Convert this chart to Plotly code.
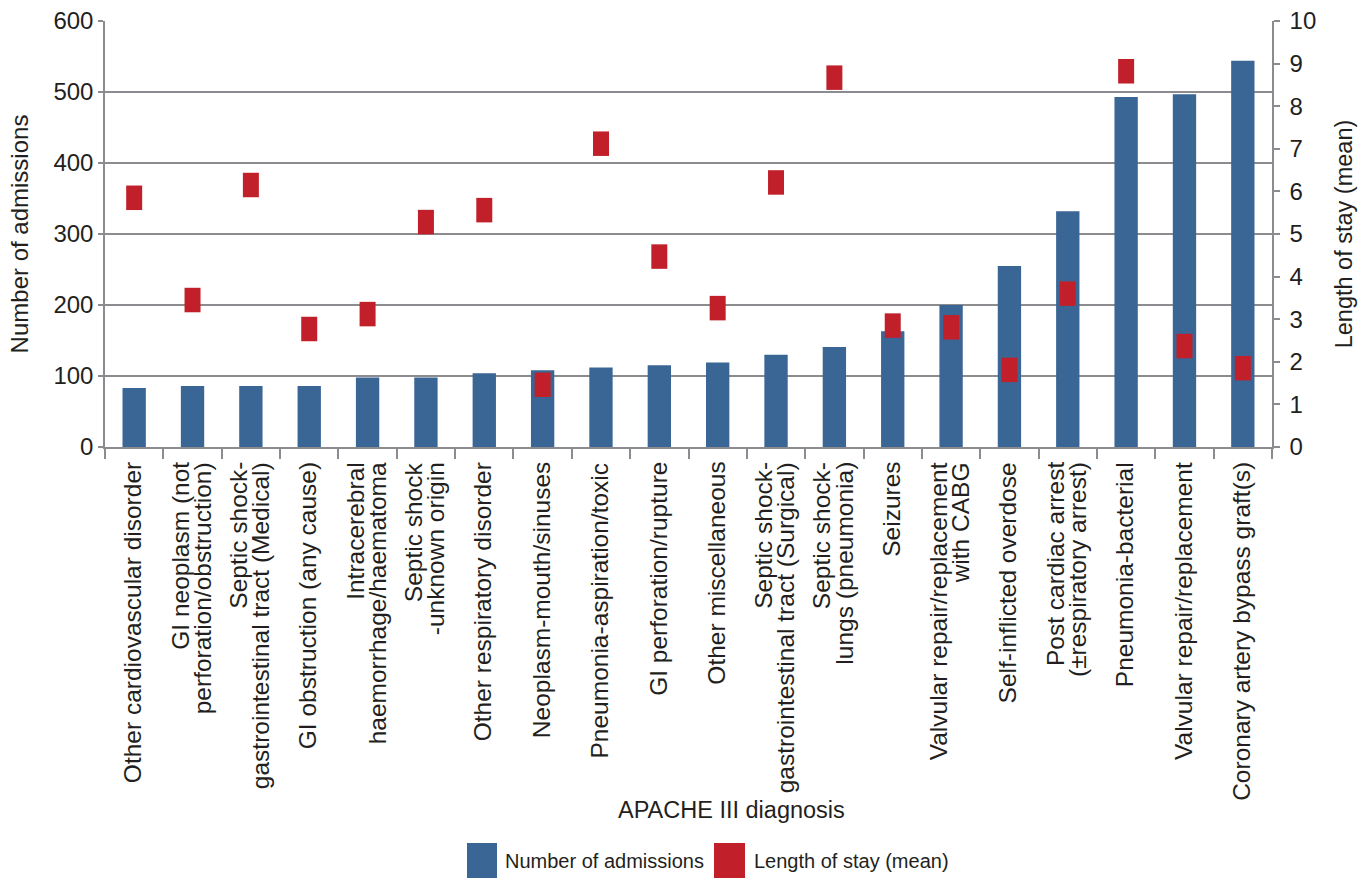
import plotly.graph_objects as go

# APACHE III diagnostic groups, ordered by number of admissions
categories = [
    "Other cardiovascular disorder",
    "GI neoplasm (not perforation/obstruction)",
    "Septic shock-gastrointestinal tract (Medical)",
    "GI obstruction (any cause)",
    "Intracerebral haemorrhage/haematoma",
    "Septic shock -unknown origin",
    "Other respiratory disorder",
    "Neoplasm-mouth/sinuses",
    "Pneumonia-aspiration/toxic",
    "GI perforation/rupture",
    "Other miscellaneous",
    "Septic shock-gastrointestinal tract (Surgical)",
    "Septic shock-lungs (pneumonia)",
    "Seizures",
    "Valvular repair/replacement with CABG",
    "Self-inflicted overdose",
    "Post cardiac arrest (±respiratory arrest)",
    "Pneumonia-bacterial",
    "Valvular repair/replacement",
    "Coronary artery bypass graft(s)",
]

# Wrapped category labels (one entry per line)
tick_labels = [
    ["Other cardiovascular disorder"],
    ["GI neoplasm (not", "perforation/obstruction)"],
    ["Septic shock-", "gastrointestinal tract (Medical)"],
    ["GI obstruction (any cause)"],
    ["Intracerebral", "haemorrhage/haematoma"],
    ["Septic shock", "-unknown origin"],
    ["Other respiratory disorder"],
    ["Neoplasm-mouth/sinuses"],
    ["Pneumonia-aspiration/toxic"],
    ["GI perforation/rupture"],
    ["Other miscellaneous"],
    ["Septic shock-", "gastrointestinal tract (Surgical)"],
    ["Septic shock-", "lungs (pneumonia)"],
    ["Seizures"],
    ["Valvular repair/replacement", "with CABG"],
    ["Self-inflicted overdose"],
    ["Post cardiac arrest", "(±respiratory arrest)"],
    ["Pneumonia-bacterial"],
    ["Valvular repair/replacement"],
    ["Coronary artery bypass graft(s)"],
]

admissions = [83, 86, 86, 86, 98, 98, 104, 108, 112, 115,
              119, 130, 141, 163, 200, 255, 332, 493, 497, 544]

length_of_stay = [5.85, 3.45, 6.15, 2.77, 3.12, 5.28, 5.56, 1.46, 7.12, 4.47,
                  3.26, 6.21, 8.67, 2.85, 2.81, 1.81, 3.60, 8.82, 2.37, 1.85]

left_ticks = [0, 100, 200, 300, 400, 500, 600]
right_ticks = list(range(0, 11))

BLUE = "#3a6696"
RED = "#c1202a"
GRID = "#8c8c90"
TEXT = "#231f20"
FONT = "Arial, Liberation Sans, Helvetica, sans-serif"

W, H = 1358, 878
ML, MR, MT, MB = 105, 86, 21, 431
PW, PH = W - ML - MR, H - MT - MB
LINE_GAP = 22.5  # spacing between wrapped label lines, px


def px_x(x):
    return (x - ML) / PW


def px_y(y):
    return (H - MB - y) / PH


fig = go.Figure()

fig.add_trace(go.Bar(
    x=categories,
    y=admissions,
    name="Number of admissions",
    marker=dict(color=BLUE, line=dict(width=0)),
    width=0.4,
    yaxis="y",
    hoverinfo="skip",
))

fig.add_trace(go.Scatter(
    x=categories,
    y=length_of_stay,
    name="Length of stay (mean)",
    mode="markers",
    marker=dict(symbol="line-ns", size=17.5, color=RED,
                line=dict(width=16, color=RED)),
    yaxis="y2",
    hoverinfo="skip",
))

fig.update_layout(
    width=W,
    height=H,
    margin=dict(l=ML, r=MR, t=MT, b=MB, pad=0, autoexpand=False),
    paper_bgcolor="white",
    plot_bgcolor="white",
    showlegend=False,
    font=dict(family=FONT, size=24, color=TEXT),
    xaxis=dict(
        type="category",
        categoryorder="array",
        categoryarray=categories,
        range=[-0.5, len(categories) - 0.5],
        tickson="boundaries",
        ticks="outside",
        ticklen=10,
        tickwidth=1.5,
        tickcolor=GRID,
        showticklabels=False,
        showline=True,
        linecolor=GRID,
        linewidth=1.5,
        showgrid=False,
        automargin=False,
    ),
    yaxis=dict(
        range=[0, 600],
        tickmode="array",
        tickvals=left_ticks,
        ticks="outside",
        ticklen=5,
        tickwidth=1.5,
        tickcolor=GRID,
        showline=True,
        linecolor=GRID,
        linewidth=1.5,
        showgrid=True,
        gridcolor=GRID,
        gridwidth=1.5,
        zeroline=False,
        automargin=False,
        tickfont=dict(size=24, color=TEXT),
        title=dict(text="Number of admissions", font=dict(size=24, color=TEXT),
                   standoff=18),
    ),
    yaxis2=dict(
        range=[0, 10],
        overlaying="y",
        side="right",
        tickmode="array",
        tickvals=right_ticks,
        ticks="outside",
        ticklen=6,
        tickwidth=1.5,
        tickcolor=GRID,
        ticklabelstandoff=5,
        showline=True,
        linecolor=GRID,
        linewidth=1.5,
        showgrid=False,
        zeroline=False,
        automargin=False,
        tickfont=dict(size=24, color=TEXT),
        title=dict(text="Length of stay (mean)", font=dict(size=23.5, color=TEXT),
                   standoff=20),
    ),
)

# Rotated category labels under each bar, lines set close together
for cat, lines in zip(categories, tick_labels):
    n = len(lines)
    for j, line in enumerate(lines):
        fig.add_annotation(
            text=line,
            x=cat, xref="x",
            y=px_y(461), yref="paper",
            textangle=-90,
            xanchor="center", yanchor="top",
            xshift=(j - (n - 1) / 2) * LINE_GAP - 1.5,
            showarrow=False,
            borderpad=0,
            font=dict(size=24.5, color=TEXT),
        )

# Axis title for the diagnosis categories
fig.add_annotation(
    text="APACHE III diagnosis",
    xref="paper", yref="paper",
    x=px_x(731), y=px_y(810),
    xanchor="center", yanchor="middle",
    showarrow=False,
    font=dict(size=23.5, color=TEXT),
)

# Legend swatches and labels below the chart
legend_items = [
    ("Number of admissions", BLUE, 467, 497, 503),
    ("Length of stay (mean)", RED, 714, 745, 752),
]
for label, color, x0, x1, tx in legend_items:
    fig.add_shape(
        type="rect", xref="paper", yref="paper",
        x0=px_x(x0), x1=px_x(x1), y0=px_y(843), y1=px_y(878),
        fillcolor=color, line=dict(width=0),
    )
    fig.add_annotation(
        text=label,
        xref="paper", yref="paper",
        x=px_x(tx), y=px_y(861),
        xanchor="left", yanchor="middle",
        showarrow=False,
        font=dict(size=20, color=TEXT),
    )

fig.write_html("out.html")
